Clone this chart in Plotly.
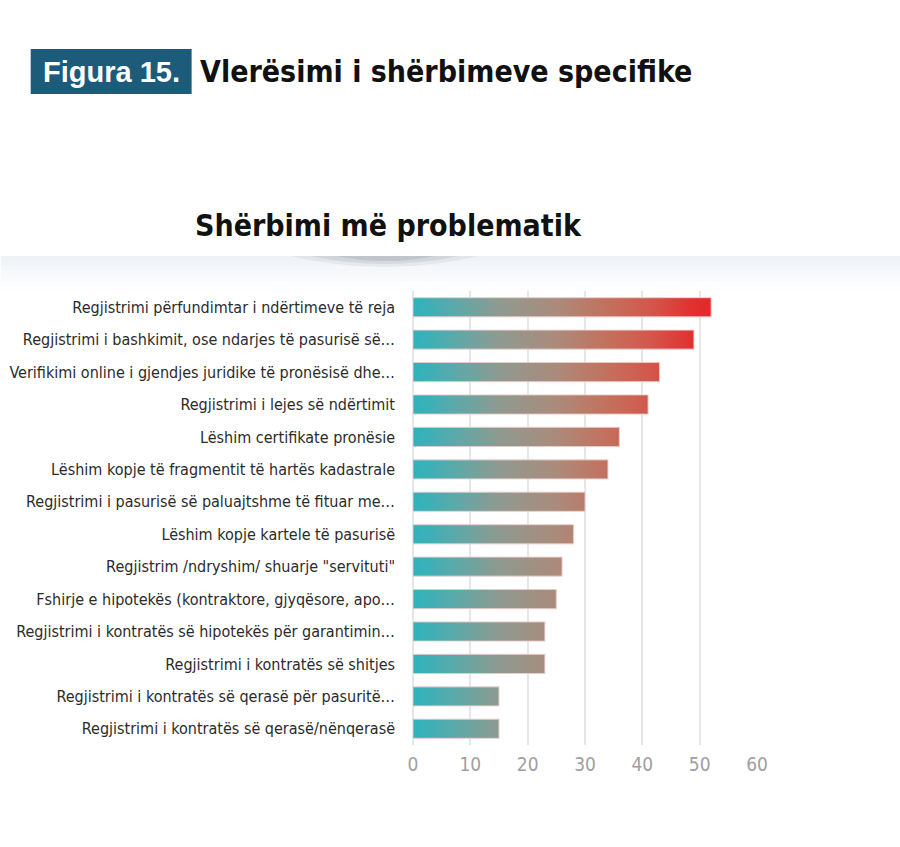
import plotly.graph_objects as go

# ---------------- data ----------------
labels = [
    "Regjistrimi përfundimtar i ndërtimeve të reja",
    "Regjistrimi i bashkimit, ose ndarjes të pasurisë së…",
    "Verifikimi online i gjendjes juridike të pronësisë dhe…",
    "Regjistrimi i lejes së ndërtimit",
    "Lëshim certifikate pronësie",
    "Lëshim kopje të fragmentit të hartës kadastrale",
    "Regjistrimi i pasurisë së paluajtshme të fituar me…",
    "Lëshim kopje kartele të pasurisë",
    "Regjistrim /ndryshim/ shuarje \"servituti\"",
    "Fshirje e hipotekës (kontraktore, gjyqësore, apo…",
    "Regjistrimi i kontratës së hipotekës për garantimin…",
    "Regjistrimi i kontratës së shitjes",
    "Regjistrimi i kontratës së qerasë për pasuritë…",
    "Regjistrimi i kontratës së qerasë/nënqerasë",
]
values = [52, 49, 43, 41, 36, 34, 30, 28, 26, 25, 23, 23, 15, 15]
x_ticks = [0, 10, 20, 30, 40, 50, 60]

fig_label = "Figura 15."
fig_title = "Vlerësimi i shërbimeve specifike"
chart_title = "Shërbimi më problematik"

# ---------------- style ----------------
W, H = 900, 847
L, R, T, B = 412.5, 143.3, 291, 102
PW = W - L - R
PH = H - T - B
NARROW = "DejaVu Sans Condensed, Liberation Sans Narrow, Arial Narrow, sans-serif"
BOLD = "Liberation Sans, Arial, sans-serif"

def px(x):
    return (x - L) / PW

def py(y):
    return (H - B - y) / PH

grad = [
    [0.0, "#2fb2bb"],
    [0.05, "#3cb0b7"],
    [0.15, "#5fa8a8"],
    [0.29, "#8f9a90"],
    [0.48, "#ab8b7b"],
    [0.58, "#ba7b69"],
    [0.69, "#c86a58"],
    [0.8, "#d3564a"],
    [0.94, "#e1302f"],
    [1.0, "#e6282b"],
]
half = 0.295

fig = go.Figure()
for i, (lab, v) in enumerate(zip(labels, values)):
    fig.add_trace(go.Scatter(
        x=[0, v, v, 0, 0],
        y=[i - half, i - half, i + half, i + half, i - half],
        mode="lines",
        fill="toself",
        fillgradient=dict(type="horizontal", colorscale=grad, start=0, stop=max(values)),
        line=dict(color="rgba(236,205,205,0.75)", width=1.2),
        hoverinfo="skip",
        showlegend=False,
        name=lab,
    ))

shapes = []
# light band under the chart title (fading downward)
band_steps = [(256, 261, 0.85), (261, 266, 0.7), (266, 271, 0.55), (271, 276, 0.4),
              (276, 281, 0.27), (281, 286, 0.15), (286, 291, 0.06)]
for y0, y1, a in band_steps:
    shapes.append(dict(type="rect", xref="paper", yref="paper",
                       x0=px(0), x1=px(900), y0=py(y1), y1=py(y0),
                       fillcolor=f"rgba(236,240,245,{a})", line=dict(width=0), layer="below"))
# soft shadow (lower half lens) under the title
for (x0, x1, yb, a) in [(290, 478, 267, 0.09), (310, 458, 264, 0.13), (335, 435, 261, 0.17)]:
    path = (f"M {px(x0)},{py(256)} Q {px((x0 + x1) / 2)},{py(2 * yb - 256)} {px(x1)},{py(256)} Z")
    shapes.append(dict(type="path", xref="paper", yref="paper", path=path,
                       fillcolor=f"rgba(105,112,122,{a})", line=dict(width=0), layer="below"))
# figure label box
shapes.append(dict(type="rect", xref="paper", yref="paper",
                   x0=px(30), x1=px(191), y0=py(94), y1=py(49),
                   fillcolor="#1d5b7b", line=dict(width=0)))

annotations = [
    dict(text=f"<b>{fig_label}</b>", xref="paper", yref="paper", x=px(110.5), y=py(72),
         xanchor="center", yanchor="middle", showarrow=False,
         font=dict(family=BOLD, size=29, color="white")),
    dict(text=f"<b>{fig_title}</b>", xref="paper", yref="paper", x=px(197), y=py(71),
         xanchor="left", yanchor="middle", showarrow=False,
         font=dict(family=NARROW, size=30, color="#111111")),
    dict(text=f"<b>{chart_title}</b>", xref="paper", yref="paper", x=px(388), y=py(225),
         xanchor="center", yanchor="middle", showarrow=False,
         font=dict(family=NARROW, size=30, color="#111111")),
]

fig.update_layout(
    width=W, height=H,
    margin=dict(l=L, r=R, t=T, b=B, autoexpand=False),
    paper_bgcolor="white", plot_bgcolor="rgba(0,0,0,0)",
    shapes=shapes, annotations=annotations,
    xaxis=dict(range=[0, 60], tickvals=x_ticks, showgrid=True, gridcolor="#e6e6e6", gridwidth=1.5,
               zeroline=True, zerolinecolor="#e6e6e6", zerolinewidth=1.5, showline=False,
               ticks="", ticklabelstandoff=6, fixedrange=True, automargin=False,
               tickfont=dict(family=NARROW, size=19, color="#a0a0a0")),
    yaxis=dict(range=[len(labels) - 0.5, -0.5], tickvals=list(range(len(labels))), ticktext=labels,
               showgrid=False, zeroline=False, showline=False, ticks="", ticklabelstandoff=17,
               fixedrange=True, automargin=False,
               tickfont=dict(family=NARROW, size=16, color="#2b2b2b")),
)

fig.write_html("out.html")
